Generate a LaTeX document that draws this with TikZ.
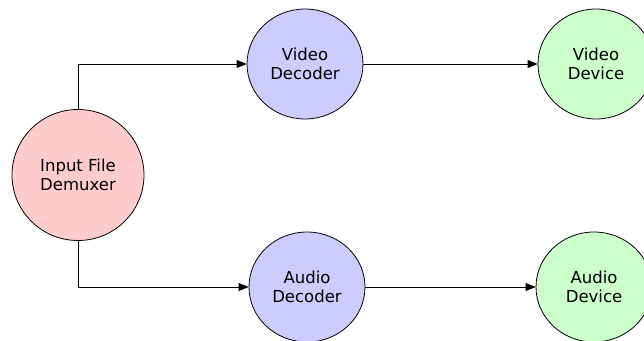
\documentclass[tikz,border=0pt]{standalone}
\usepackage{fontspec}
\setmainfont{DejaVu Sans}
\usetikzlibrary{shapes.geometric, positioning, arrows.meta}

\begin{document}
\begin{tikzpicture}[x=1pt, y=-1pt,
    stage/.style={ellipse, draw, line width=0.8pt, align=center,
        minimum width=116pt, minimum height=110pt, inner sep=0pt,
        font=\fontsize{16.5}{19.5}\selectfont},
    flow/.style={draw, line width=0.8pt, -{Triangle[length=10pt,width=8pt]}}]  % one arrow style for all links
    \useasboundingbox (0,0) rectangle (644,340);
    % source
    \node[stage, fill={rgb,255:red,255;green,204;blue,204},
        minimum width=132pt, minimum height=131pt] (demux) at (78,175) {Input File\\Demuxer};
    % decoders
    \node[stage, fill={rgb,255:red,204;green,204;blue,255}] (vdec) at (305,64) {Video\\Decoder};
    \node[stage, fill={rgb,255:red,204;green,204;blue,255}] (adec) at (307,287) {Audio\\Decoder};
    % output devices
    \node[stage, fill={rgb,255:red,204;green,255;blue,204}] (vdev) at (596,64) {Video\\Device};
    \node[stage, fill={rgb,255:red,204;green,255;blue,204}] (adev) at (594,287) {Audio\\Device};
    % links
    \draw[flow] (demux.north) |- (vdec.west);
    \draw[flow] (demux.south) |- (adec.west);
    \draw[flow] (vdec) -- (vdev);
    \draw[flow] (adec) -- (adev);
\end{tikzpicture}
\end{document}
